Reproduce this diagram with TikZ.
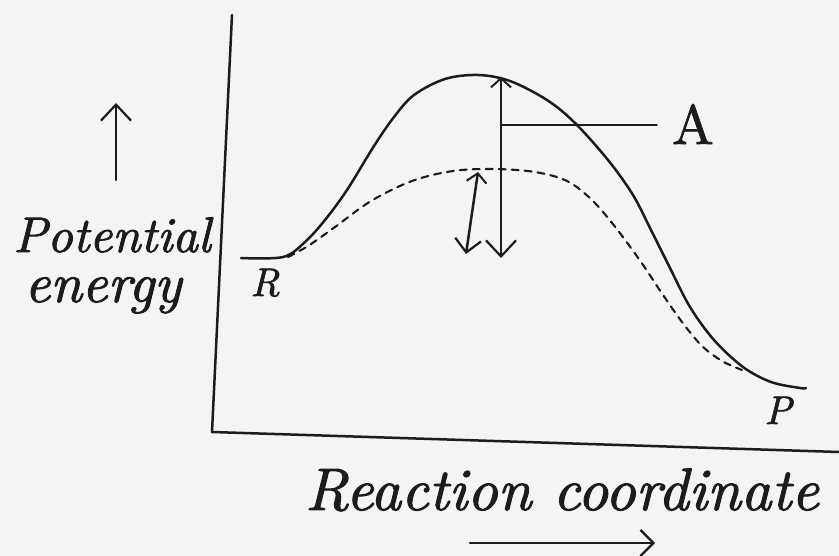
\documentclass[tikz,border=0pt]{standalone}
\usepackage{fontspec}
\usetikzlibrary{arrows.meta}
\newfontfamily\handfont{lmroman10-italic.otf}[FakeBold=1.6]
\newfontfamily\handup{lmroman10-regular.otf}[FakeBold=1.2]
\definecolor{paper}{RGB}{244,244,242}
\definecolor{ink}{RGB}{28,28,28}
\tikzset{
  bigbarb/.tip={Straight Barb[length=16pt,width=30pt,line width=2.2pt]},
  midbarb/.tip={Straight Barb[length=13pt,width=26pt,line width=2.2pt]},
  smallbarb/.tip={Straight Barb[length=9pt,width=20pt,line width=2pt]}
}
\begin{document}
\begin{tikzpicture}[x=1pt,y=-1pt, line width=2.5pt, line cap=round, line join=round, draw=ink,
  hand/.style={font=\fontsize{#1}{#1}\selectfont\handfont, text=ink, inner sep=0pt},
  hand/.default=52,
  upright/.style={font=\fontsize{#1}{#1}\selectfont\handup, text=ink, inner sep=0pt},
  curvedash/.style={dash pattern=on 7pt off 6pt, line width=2.1pt}]
\fill[paper] (0,0) rectangle (839,556);
\useasboundingbox (0,0) rectangle (839,556);

% axes
\coordinate (ytop) at (232,15);
\coordinate (origin) at (212,432);
\coordinate (xend) at (839,452);
\draw (ytop) -- (origin) -- (xend);

% reactant level and solid curve
\draw plot[smooth, tension=0.55] coordinates {(241,258) (283,257) (305,242) (325,220) (347,190) (374,146) (394,117) (414,95) (445,79) (478,75) (510,81) (547,100) (575,123) (608,160) (633,195) (651,230) (670,268) (690,307) (714,340) (743,367) (771,382) (800,388) (806,388)};

% dashed catalysed curve
\draw[curvedash] plot[smooth, tension=0.55] coordinates {(288,257) (308,246) (335,227) (371,201) (412,181) (453,171) (494,169) (535,172) (567,181) (592,200) (616,228) (641,262) (661,292) (682,322) (702,346) (722,361) (742,370)};

% energy arrows
\coordinate (peak) at (501,77);
\coordinate (base) at (501,258);
\draw[{smallbarb}-{bigbarb}] (peak) -- (base);
\coordinate (dpeak) at (478,172);
\coordinate (dbase) at (466,254);
\draw[{smallbarb}-{midbarb}] (dpeak) -- (dbase);

% label A
\node[upright=56] (A) at (693,124) {A};
\coordinate (amid) at (501,125);
\draw[shorten >=14pt] (amid) -- (A.west |- amid);

% R and P
\node[hand=40, anchor=base] (R) at (265,296) {R};
\node[hand=40, anchor=base] (P) at (778,424) {P};

% axis labels
\coordinate (upfoot) at (116,180);
\coordinate (uptip) at (116,103);
\draw[-{bigbarb}] (upfoot) -- (uptip);
\node[hand=50, anchor=base] (pot) at (112,252) {Potential};
\node[hand=56, anchor=base] (en) at (103,302) {energy};

\node[hand=60, anchor=base] (rc) at (562,510) {Reaction coordinate};
\coordinate (rfoot) at (470,543);
\coordinate (rtip) at (655,543);
\draw[-{midbarb}] (rfoot) -- (rtip);
\end{tikzpicture}
\end{document}
